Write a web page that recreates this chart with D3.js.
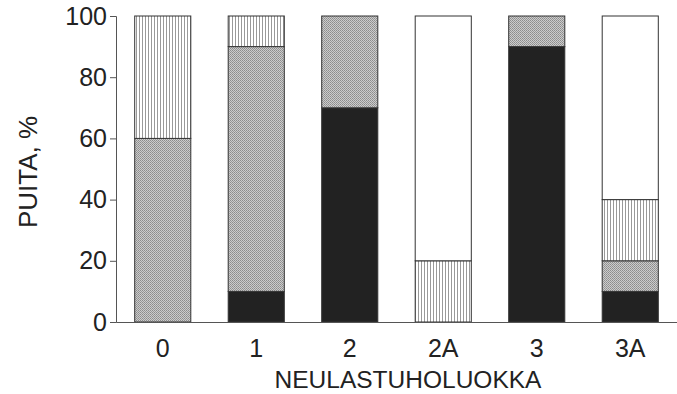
<!DOCTYPE html>
<html><head><meta charset="utf-8">
<script src="https://cdn.jsdelivr.net/npm/d3@7"></script>
<style>body{margin:0;background:#fff}svg{display:block}text{font-family:"Liberation Sans",Arial,sans-serif;fill:#222}</style>
</head><body>
<script>
const categories = ["0","1","2","2A","3","3A"];
const black   = [0, 10, 70, 0, 90, 10];
const stipple = [60, 80, 30, 0, 10, 10];
const vlines  = [40, 10, 0, 20, 0, 20];
const blank   = [0, 0, 0, 80, 0, 60];
const yTicks = [0, 20, 40, 60, 80, 100];
const seriesNames = ["black","stipple","vlines","blank"];

const W = 677, H = 394;
const svg = d3.select("body").append("svg").attr("width", W).attr("height", H);
const defs = svg.append("defs");
const sp = defs.append("pattern").attr("id","stip").attr("patternUnits","userSpaceOnUse").attr("width",2).attr("height",2);
sp.append("rect").attr("width",2).attr("height",2).attr("fill","#cccccc");
sp.append("rect").attr("width",1).attr("height",1).attr("fill","#8c8c8c");
sp.append("rect").attr("x",1).attr("y",1).attr("width",1).attr("height",1).attr("fill","#999999");
const vp = defs.append("pattern").attr("id","vl").attr("patternUnits","userSpaceOnUse").attr("width",3).attr("height",4);
vp.append("rect").attr("width",3).attr("height",4).attr("fill","#fff");
vp.append("rect").attr("x",1).attr("width",1).attr("height",4).attr("fill","#999");

const fills = {black:"#222", stipple:"url(#stip)", vlines:"url(#vl)", blank:"#fff"};

const x = d3.scaleBand().domain(categories).range([116, 677]).paddingInner(0.4).paddingOuter(0.2);
const y = d3.scaleLinear().domain([0,100]).range([322,16]);

const rows = categories.map((c,i)=>({cat:c, black:black[i], stipple:stipple[i], vlines:vlines[i], blank:blank[i]}));
const stack = d3.stack().keys(seriesNames)(rows);

stack.forEach(layer=>{
  svg.append("g").selectAll("rect").data(layer.filter(d=>d[1]-d[0]>0)).join("rect")
    .attr("x", d=>x(d.data.cat)).attr("width", x.bandwidth())
    .attr("y", d=>y(d[1])).attr("height", d=>y(d[0])-y(d[1]))
    .attr("fill", fills[layer.key]).attr("stroke","#333").attr("stroke-width",1);
});

const ya = svg.append("g").attr("transform","translate(116,0)")
  .call(d3.axisLeft(y).tickValues(yTicks).tickSize(6).tickPadding(3));
ya.select(".domain").attr("stroke","#555");
ya.selectAll(".tick line").attr("stroke","#555");
ya.selectAll(".tick text").attr("font-size",25).attr("fill","#222").attr("font-family","Liberation Sans, Arial, sans-serif");

const xa = svg.append("g").attr("transform","translate(0,322)")
  .call(d3.axisBottom(x).tickSize(0).tickPadding(12));
xa.select(".domain").attr("stroke","#555");
xa.selectAll(".tick text").attr("font-size",25).attr("y",35).attr("dy",0).attr("fill","#222").attr("font-family","Liberation Sans, Arial, sans-serif");

svg.append("text").attr("x", 408).attr("y", 388).attr("text-anchor","middle")
  .attr("font-size",24.5).text("NEULASTUHOLUOKKA");
svg.append("text").attr("transform","translate(37,172) rotate(-90)").attr("text-anchor","middle")
  .attr("font-size",26).text("PUITA, %");
</script>
</body></html>
